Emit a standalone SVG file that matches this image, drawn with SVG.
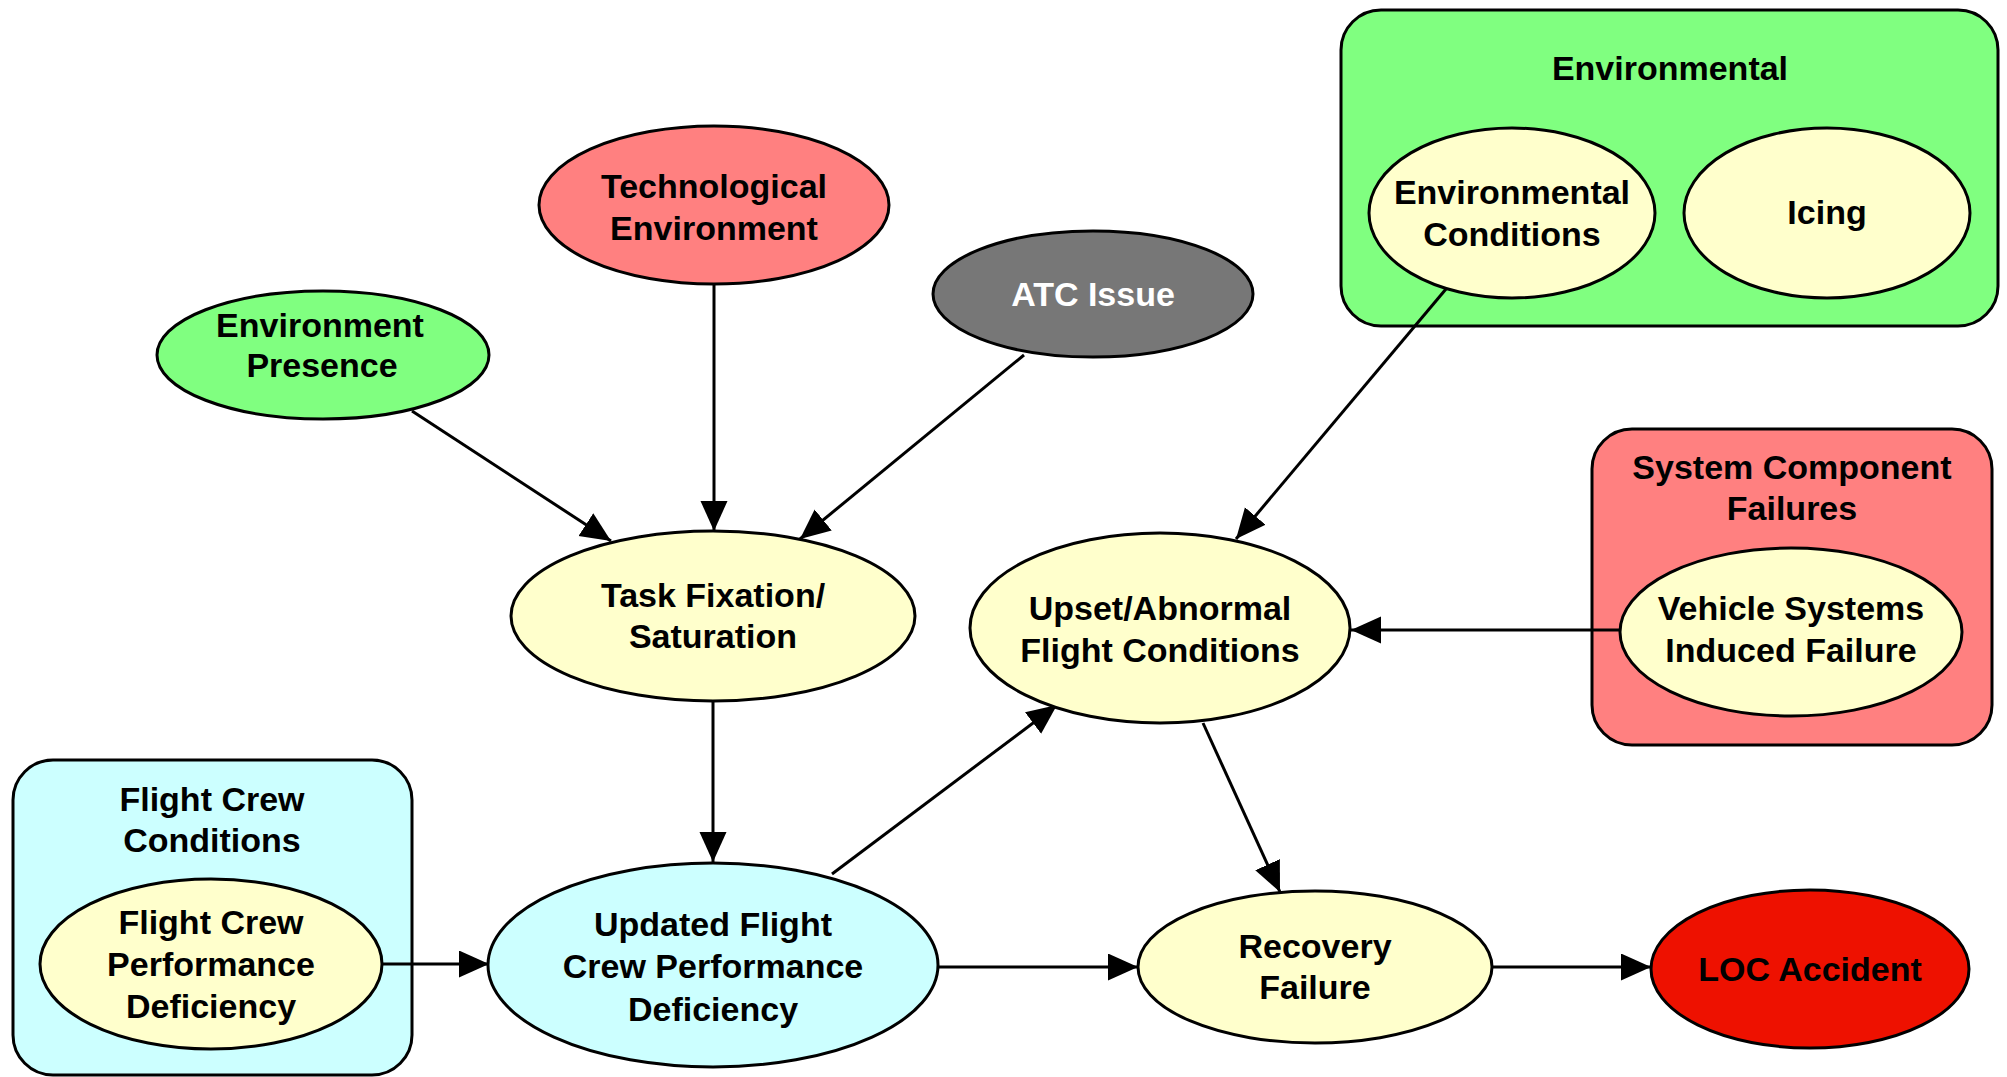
<svg xmlns="http://www.w3.org/2000/svg" width="2007" height="1077" viewBox="0 0 2007 1077">
  <style>
    text { font-family: "Liberation Sans", Arial, sans-serif; font-weight: bold; font-size: 34px; text-anchor: middle; fill: #000; }
    .node { stroke: #000; stroke-width: 3; }
    .box { stroke: #000; stroke-width: 3; }
    .yellow { fill: #FFFFCC; }
    .green { fill: #80FF80; }
    .salmon { fill: #FF8080; }
    .cyan { fill: #CCFFFF; }
    .grey { fill: #777777; }
    .red { fill: #EE1100; }
    .edge { stroke: #000; stroke-width: 3; fill: none; marker-end: url(#arrow); }
    text.light { fill: #FFFFFF; }
  </style>
  <defs>
    <marker id="arrow" markerUnits="userSpaceOnUse" markerWidth="32" markerHeight="28" refX="30" refY="13.5" orient="auto">
      <path d="M0,0 L30,13.5 L0,27 z" fill="#000"/>
    </marker>
  </defs>
  <rect x="0" y="0" width="2007" height="1077" fill="#FFFFFF"/>

  <!-- container groups -->
  <g id="environmental-group">
    <rect class="box green" x="1341" y="10" width="657" height="316" rx="40" ry="40"/>
    <text x="1670" y="80">Environmental</text>
  </g>
  <g id="system-component-failures-group">
    <rect class="box salmon" x="1592" y="429" width="400" height="316" rx="40" ry="40"/>
    <text x="1792" y="479">System Component</text>
    <text x="1792" y="520">Failures</text>
  </g>
  <g id="flight-crew-conditions-group">
    <rect class="box cyan" x="13" y="760" width="399" height="315" rx="40" ry="40"/>
    <text x="212" y="811">Flight Crew</text>
    <text x="212" y="852">Conditions</text>
  </g>

  <!-- connectors -->
  <g id="connectors">
    <line class="edge" x1="412" y1="411" x2="611" y2="541"/>
    <line class="edge" x1="714" y1="284" x2="714" y2="531"/>
    <line class="edge" x1="1024" y1="355" x2="800" y2="539"/>
    <line class="edge" x1="1446" y1="289" x2="1236" y2="539"/>
    <line class="edge" x1="1620" y1="630" x2="1351" y2="630"/>
    <line class="edge" x1="713" y1="701" x2="713" y2="862"/>
    <line class="edge" x1="832" y1="874" x2="1057" y2="705"/>
    <line class="edge" x1="1203" y1="723" x2="1280" y2="892"/>
    <line class="edge" x1="383" y1="964" x2="489" y2="964"/>
    <line class="edge" x1="938" y1="967" x2="1138" y2="967"/>
    <line class="edge" x1="1492" y1="967" x2="1651" y2="967"/>
  </g>

  <!-- nodes -->
  <g id="technological-environment">
    <ellipse class="node salmon" cx="714" cy="205" rx="175" ry="79"/>
    <text x="714" y="198">Technological</text>
    <text x="714" y="240">Environment</text>
  </g>
  <g id="environment-presence">
    <ellipse class="node green" cx="323" cy="355" rx="166" ry="64"/>
    <text x="320" y="337">Environment</text>
    <text x="322" y="377">Presence</text>
  </g>
  <g id="atc-issue">
    <ellipse class="node grey" cx="1093" cy="294" rx="160" ry="63"/>
    <text class="light" x="1093" y="306">ATC Issue</text>
  </g>
  <g id="task-fixation">
    <ellipse class="node yellow" cx="713" cy="616" rx="202" ry="85"/>
    <text x="713" y="607">Task Fixation/</text>
    <text x="713" y="648">Saturation</text>
  </g>
  <g id="upset-abnormal">
    <ellipse class="node yellow" cx="1160" cy="628" rx="190" ry="95"/>
    <text x="1160" y="620">Upset/Abnormal</text>
    <text x="1160" y="662">Flight Conditions</text>
  </g>
  <g id="environmental-conditions">
    <ellipse class="node yellow" cx="1512" cy="213" rx="143" ry="85"/>
    <text x="1512" y="204">Environmental</text>
    <text x="1512" y="246">Conditions</text>
  </g>
  <g id="icing">
    <ellipse class="node yellow" cx="1827" cy="213" rx="143" ry="85"/>
    <text x="1827" y="224">Icing</text>
  </g>
  <g id="vehicle-systems-induced-failure">
    <ellipse class="node yellow" cx="1791" cy="632" rx="171" ry="84"/>
    <text x="1791" y="620">Vehicle Systems</text>
    <text x="1791" y="662">Induced Failure</text>
  </g>
  <g id="flight-crew-performance-deficiency">
    <ellipse class="node yellow" cx="211" cy="964" rx="171" ry="85"/>
    <text x="211" y="934">Flight Crew</text>
    <text x="211" y="976">Performance</text>
    <text x="211" y="1018">Deficiency</text>
  </g>
  <g id="updated-flight-crew-performance-deficiency">
    <ellipse class="node cyan" cx="713" cy="965" rx="225" ry="102"/>
    <text x="713" y="936">Updated Flight</text>
    <text x="713" y="978">Crew Performance</text>
    <text x="713" y="1021">Deficiency</text>
  </g>
  <g id="recovery-failure">
    <ellipse class="node yellow" cx="1315" cy="967" rx="177" ry="76"/>
    <text x="1315" y="958">Recovery</text>
    <text x="1315" y="999">Failure</text>
  </g>
  <g id="loc-accident">
    <ellipse class="node red" cx="1810" cy="969" rx="159" ry="79"/>
    <text x="1810" y="981">LOC Accident</text>
  </g>
</svg>
